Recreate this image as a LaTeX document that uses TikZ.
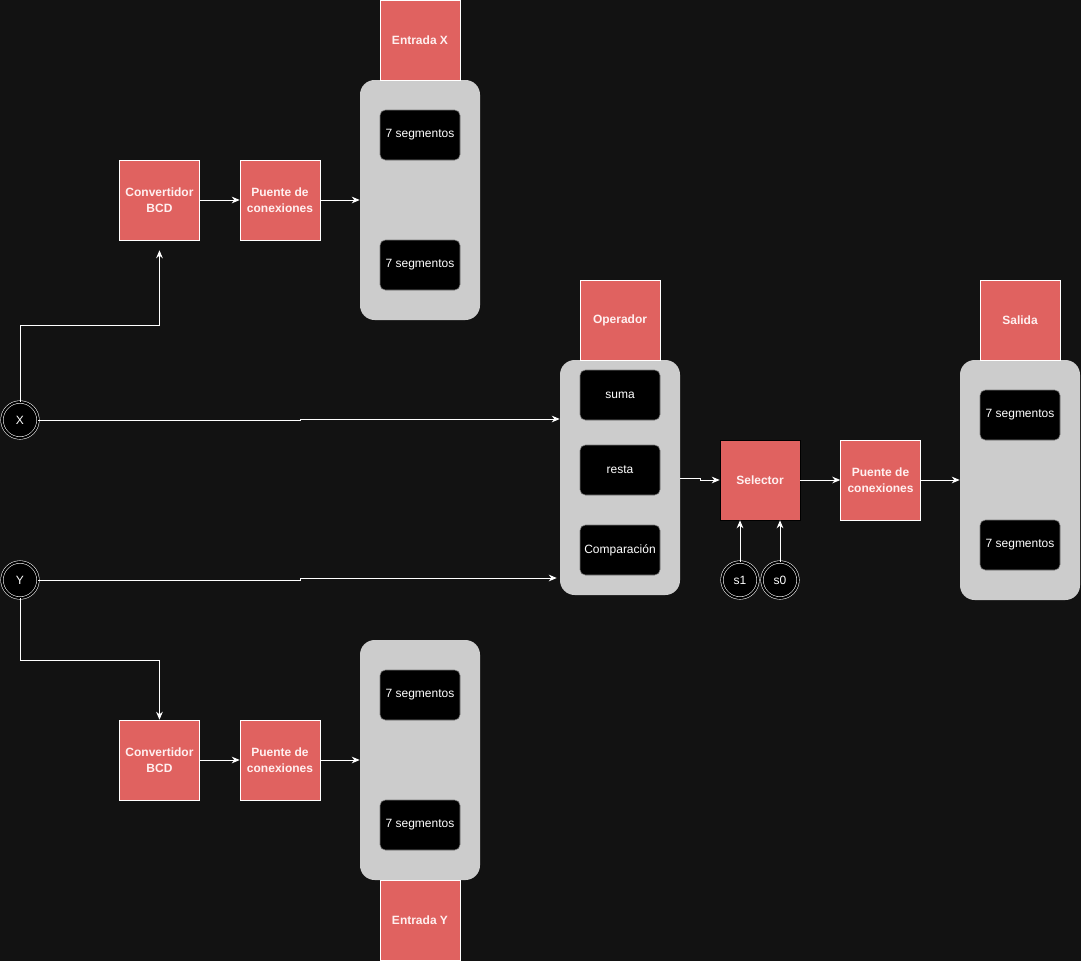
\documentclass[tikz,border=0pt]{standalone}
\usepackage{fontspec}
\setmainfont{Liberation Sans}
\usetikzlibrary{positioning, arrows.meta, calc}

\definecolor{bgdark}{HTML}{121212}
\definecolor{boxred}{HTML}{E06260}
\definecolor{boxtext}{HTML}{FFF0F0}
\definecolor{panelgray}{HTML}{CCCCCC}

\begin{document}
\begin{tikzpicture}[
        x=0.75pt, y=-0.75pt,
        node distance=30pt,
        redbox/.style={draw=white, fill=boxred, rectangle, minimum width=60pt, minimum height=60pt, inner sep=0pt, align=center, text=boxtext, font=\fontsize{9}{12}\selectfont\bfseries},
        panel/.style={fill=panelgray, rectangle, rounded corners=11pt, minimum width=90pt, inner sep=0pt},
        display/.style={draw=panelgray!60!black, fill=black, rectangle, rounded corners=4pt, minimum width=60pt, minimum height=37.5pt, inner sep=0pt, text=white, font=\fontsize{9}{12}\selectfont},
        terminal/.style={circle, draw=white, double=black, double distance=1.5pt, fill=black, minimum size=27pt, inner sep=0pt, text=white, font=\fontsize{9}{12}\selectfont},
        arrow/.style={-{Stealth[length=6pt, width=5pt]}, draw=white, line width=0.75pt}
    ]
    \useasboundingbox (0,0) rectangle (1081,961);
    \fill[bgdark] (0,0) rectangle (1081,961);

    % entrada X
    \node[panel, minimum height=180pt] (PanelX) at (420,200) {};
    \node[redbox, minimum height=60pt] (EntradaX) at (420,40) {Entrada X};
    \node[display] (SegX1) at (420,135) {7 segmentos};
    \node[display] (SegX2) at (420,265) {7 segmentos};
    \node[redbox] (PuenteX) at (280,200) {Puente de\\conexiones};
    \node[redbox, left=30pt of PuenteX] (ConvX) {Convertidor\\BCD};

    % entrada Y
    \node[panel, minimum height=180pt] (PanelY) at (420,760) {};
    \node[redbox] (EntradaY) at (420,920) {Entrada Y};
    \node[display] (SegY1) at (420,695) {7 segmentos};
    \node[display] (SegY2) at (420,825) {7 segmentos};
    \node[redbox] (PuenteY) at (280,760) {Puente de\\conexiones};
    \node[redbox, left=30pt of PuenteY] (ConvY) {Convertidor\\BCD};

    % operador
    \node[panel, minimum height=176.25pt] (PanelOp) at (620,477.5) {};
    \node[redbox] (Operador) at (620,320) {Operador};
    \node[display] (Suma) at (620,395) {suma};
    \node[display] (Resta) at (620,470) {resta};
    \node[display] (Comp) at (620,550) {Comparación};

    % selector y salida
    \node[redbox, draw=black] (Selector) at (760,480) {Selector};
    \node[redbox, right=30pt of Selector] (PuenteS) {Puente de\\conexiones};
    \node[panel, minimum height=180pt] (PanelS) at (1020,480) {};
    \node[redbox] (Salida) at (1020,320) {Salida};
    \node[display] (SegS1) at (1020,415) {7 segmentos};
    \node[display] (SegS2) at (1020,545) {7 segmentos};

    % entradas
    \node[terminal] (X) at (20,420) {X};
    \node[terminal] (Y) at (20,580) {Y};
    \node[terminal] (S1) at (740,580) {s1};
    \node[terminal] (S0) at (780,580) {s0};

    \coordinate (TurnX) at (20,325);
    \coordinate (TurnY) at (20,660);

    \draw[arrow] (X.north) -- (TurnX) -| ([yshift=-7.5pt]ConvX.south);
    \draw[arrow] (ConvX) -- (PuenteX);
    \draw[arrow] (PuenteX) -- (PanelX.west |- PuenteX);
    \draw[arrow] (Y.south) -- (TurnY) -| (ConvY.north);
    \draw[arrow] (ConvY) -- (PuenteY);
    \draw[arrow] (PuenteY) -- (PanelY.west |- PuenteY);
    \draw[arrow] (X.east) -- (300,420) -- (300,419) -- (PanelOp.west |- 0,419);
    \draw[arrow] (Y.east) -- (300,580) -- (300,578) -- ([xshift=-2.25pt]PanelOp.west |- 0,578);
    \draw[arrow] (PanelOp.east |- 0,478) -- (700,478) -- (700,480) -- (Selector.west);
    \draw[arrow] (Selector) -- (PuenteS);
    \draw[arrow] (PuenteS) -- (PanelS.west |- PuenteS);
    \draw[arrow] (S1.north) -- (S1.north |- Selector.south);
    \draw[arrow] (S0.north) -- (S0.north |- Selector.south);

\end{tikzpicture}
\end{document}
